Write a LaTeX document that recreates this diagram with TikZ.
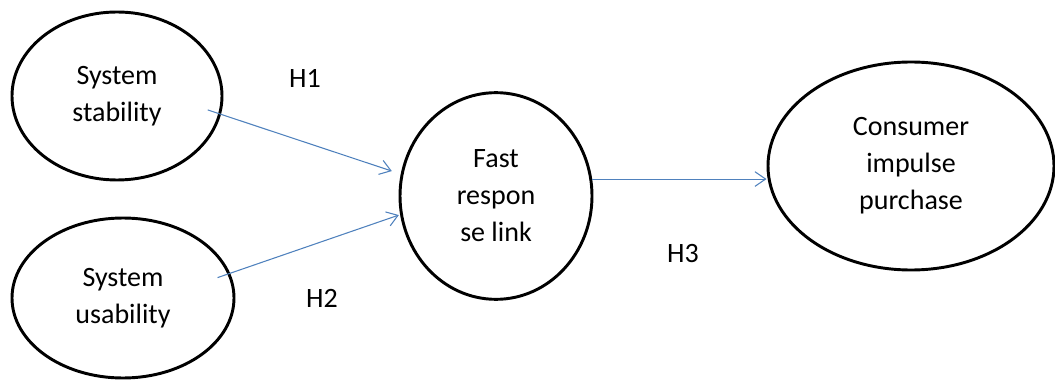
\documentclass[tikz,border=0pt]{standalone}
\usepackage{fontspec}
\setmainfont{Carlito}
\usetikzlibrary{shapes.geometric,arrows.meta}
\definecolor{linkblue}{RGB}{79,129,189}
\tikzset{
  construct/.style={draw, ellipse, line width=2.2pt, inner sep=0pt, align=center,
    font=\fontsize{21}{27.75}\selectfont},
  hlabel/.style={font=\fontsize{21}{27.75}\selectfont},
  link/.style={draw=linkblue, line width=0.8pt, -{Straight Barb[length=8pt,width=11pt,line width=0.8pt]}}
}
\begin{document}
\begin{tikzpicture}[x=0.75pt, y=-0.75pt]
      \useasboundingbox (0, 0) rectangle (1055, 381);
      \node[construct, minimum width=157.5pt, minimum height=126pt] (stab) at (117, 96) {System\\stability};
      \node[construct, minimum width=166.5pt, minimum height=120pt] (usab) at (123, 298) {System\\usability};
      \node[construct, minimum width=144pt, minimum height=155pt] (fast) at (496, 196) {Fast\\respon\\se link};
      \node[construct, minimum width=214.5pt, minimum height=156pt] (cons) at (911, 166) {Consumer\\impulse\\purchase};
      \node[hlabel] (h1) at (305, 78) {H1};
      \node[hlabel] (h2) at (322, 298) {H2};
      \node[hlabel] (h3) at (683, 254) {H3};
      \draw[link, shorten <=-10.5pt, shorten >=7pt] (stab.-10) -- (fast.167);
      \draw[link, shorten <=-10pt, shorten >=1pt] (usab.13) -- (fast.191);
      \draw[link] (fast.10) -- (cons.west |- fast.10);
    \end{tikzpicture}
\end{document}
